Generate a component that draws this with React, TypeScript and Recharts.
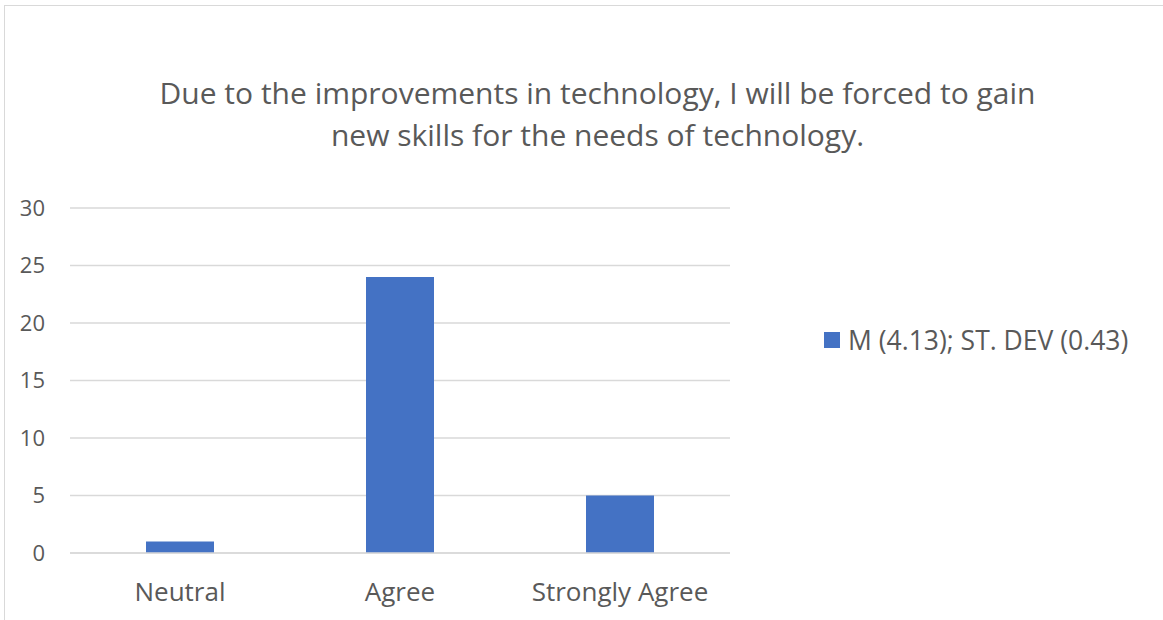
import { BarChart, Bar, XAxis, YAxis, CartesianGrid } from 'recharts';

const categories = ['Neutral', 'Agree', 'Strongly Agree'];
const counts = [1, 24, 5];
const yTicks = [0, 5, 10, 15, 20, 25, 30];
const seriesName = 'M (4.13); ST. DEV (0.43)';
const titleLines = [
  'Due to the improvements in technology, I will be forced to gain',
  'new skills for the needs of technology.',
];

const data = categories.map((c, i) => ({ category: c, value: counts[i] }));

const FONT = '"Open Sans", sans-serif';
const TEXT = '#595959';

export default function App() {
  return (
    <div style={{ position: 'absolute', left: 0, top: 0, width: 1163, height: 620, overflow: 'hidden', background: '#fff' }}>
      <div style={{ position: 'absolute', left: 4, top: 5, width: 1300, height: 800, border: '1.5px solid #d9d9d9' }} />
      <div
        style={{
          position: 'absolute', left: 0, top: 72, width: 1195, textAlign: 'center',
          fontFamily: FONT, fontSize: 30, lineHeight: '42px', color: TEXT,
        }}
      >
        {titleLines.map((l) => (
          <div key={l}>{l}</div>
        ))}
      </div>
      <div style={{ position: 'absolute', left: 0, top: 0 }}>
        <BarChart width={1163} height={620} data={data} margin={{ top: 208, right: 433, bottom: 0, left: 0 }}>
          <CartesianGrid vertical={false} stroke="#d9d9d9" strokeWidth={1.5} />
          <XAxis
            dataKey="category"
            height={67}
            tickLine={false}
            tickSize={0}
            tickMargin={30}
            axisLine={{ stroke: '#d9d9d9', strokeWidth: 1.5 }}
            tick={{ fill: TEXT, fontSize: 26, fontFamily: FONT }}
          />
          <YAxis
            width={70}
            domain={[0, 30]}
            ticks={yTicks}
            tickLine={false}
            tickSize={0}
            tickMargin={25}
            axisLine={false}
            tick={{ fill: TEXT, fontSize: 22, fontFamily: FONT }}
          />
          <Bar dataKey="value" name={seriesName} fill="#4472c4" barSize={68} isAnimationActive={false} />
        </BarChart>
      </div>
      <div
        style={{
          position: 'absolute', left: 824, top: 322, display: 'flex', alignItems: 'center',
          fontFamily: FONT, fontSize: 26.5, color: TEXT, whiteSpace: 'nowrap',
        }}
      >
        <span style={{ display: 'inline-block', width: 16, height: 16, background: '#4472c4', marginRight: 8 }} />
        {seriesName}
      </div>
    </div>
  );
}
